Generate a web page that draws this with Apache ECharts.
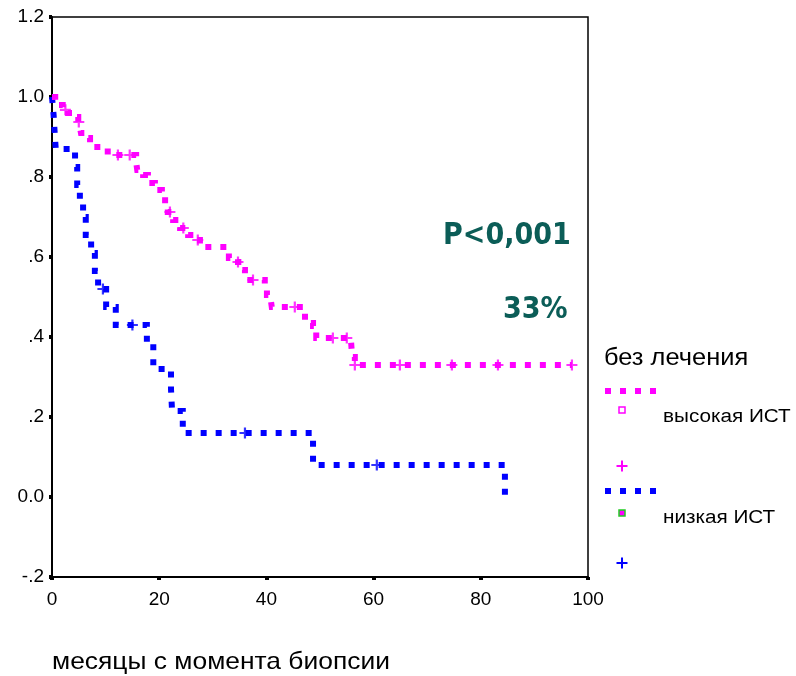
<!DOCTYPE html>
<html>
<head>
<meta charset="utf-8">
<script src="https://cdn.jsdelivr.net/npm/echarts@6/dist/echarts.min.js"></script>
<style>
  html, body { margin: 0; padding: 0; background: #fff; }
  #chart { width: 796px; height: 676px; }
</style>
</head>
<body>
<div id="chart"></div>
<script>
// Kaplan–Meier survival, untreated patients, split by IST level.
// Event times (months) and survival after each event.
const highTimes = [0, 0.6, 1.1, 2.0, 3.0, 3.9, 4.9, 5.2, 5.4, 6.2, 7.1, 7.6, 10.4, 15.7, 15.9, 17.0, 17.9, 19.2, 20.5, 21.1, 21.6, 22.6, 23.9, 25.4, 27.1, 27.6, 33.0, 34.7, 35.4, 36.0, 39.7, 40.1, 40.7, 41.0, 47.2, 48.7, 49.3, 55.8, 56.0, 56.5, 97.0];
const highSurv  = [1.0, 0.988, 0.98, 0.968, 0.96, 0.95, 0.9375, 0.925, 0.91, 0.8975, 0.885, 0.875, 0.855, 0.8375, 0.8175, 0.805, 0.785, 0.7675, 0.75, 0.73, 0.7125, 0.6925, 0.6725, 0.655, 0.6425, 0.625, 0.5975, 0.5875, 0.5675, 0.5425, 0.5325, 0.505, 0.5, 0.475, 0.435, 0.4275, 0.3975, 0.3875, 0.35, 0.33, 0.33];
// Censored observations (plus marks)
const highCensT = [2.5, 5.0, 12.3, 14.5, 22.0, 24.5, 27.2, 34.7, 37.5, 45.3, 52.4, 55.0, 56.5, 64.9, 74.6, 83.2, 97.0];
const highCensS = [0.968, 0.9375, 0.855, 0.855, 0.7125, 0.6725, 0.6425, 0.5875, 0.5425, 0.475, 0.3975, 0.3975, 0.33, 0.33, 0.33, 0.33, 0.33];

const lowTimes = [0, 0.3, 0.5, 0.7, 4.3, 4.7, 5.2, 5.8, 6.3, 7.3, 8.0, 8.6, 10.1, 11.9, 17.7, 18.9, 22.2, 22.4, 24.4, 48.7, 84.5];
const lowSurv  = [1.0, 0.955, 0.91, 0.87, 0.825, 0.78, 0.74, 0.70, 0.655, 0.61, 0.565, 0.52, 0.475, 0.43, 0.385, 0.32, 0.27, 0.215, 0.16, 0.08, 0.0];
const lowCensT = [9.5, 15.0, 36.0, 60.6];
const lowCensS = [0.52, 0.43, 0.16, 0.08];

const yTickValues = [-0.2, 0, 0.2, 0.4, 0.6, 0.8, 1.0, 1.2];
const yTickLabels = ['-.2', '0.0', '.2', '.4', '.6', '.8', '1.0', '1.2'];

const MAGENTA = '#ff00ff';
const BLUE = '#0000ff';
const TEAL = '#0b5d57';
const FONT = '"Liberation Sans", Arial, sans-serif';
const PLUS = 'path://M4,0h2v4h4v2h-4v4h-2v-4h-4v-2h4z';

const zip = (a, b) => a.map((v, i) => [v, b[i]]);

const chart = echarts.init(document.getElementById('chart'), null, { renderer: 'canvas' });

const dotted = (color) => ({ color: color, width: 6, type: [6, 9], cap: 'butt', join: 'miter' });

// Left-anchored, vertically centred text, optionally widened
const label = (text, x, y, font, fill, sx) => ({
  type: 'text', x: x, y: y, scaleX: sx || 1,
  style: { text: text, fill: fill || '#000', font: font, align: 'left', verticalAlign: 'middle' }
});

// Small plus-shaped legend key centred at (cx, cy)
const plusKey = (cx, cy, color) => {
  const a = 5.5, t = 1;
  return {
    type: 'polygon',
    shape: { points: [
      [cx - t, cy - a], [cx + t, cy - a], [cx + t, cy - t], [cx + a, cy - t],
      [cx + a, cy + t], [cx + t, cy + t], [cx + t, cy + a], [cx - t, cy + a],
      [cx - t, cy + t], [cx - a, cy + t], [cx - a, cy - t], [cx - t, cy - t]
    ] },
    style: { fill: color }
  };
};

chart.setOption({
  animation: false,
  backgroundColor: '#fff',
  grid: {
    left: 52, right: 208, top: 17, bottom: 99,
    show: true, borderColor: '#000', borderWidth: 1.5, backgroundColor: 'transparent'
  },
  xAxis: {
    type: 'value', min: 0, max: 100, interval: 20,
    axisLine: { show: true, onZero: false, lineStyle: { color: '#000', width: 2 } },
    axisTick: { show: true, length: 3, lineStyle: { color: '#000', width: 4 } },
    axisLabel: { color: '#000', fontFamily: FONT, fontSize: 19, margin: 13 },
    splitLine: { show: false }
  },
  yAxis: {
    type: 'value', min: -0.2, max: 1.2, interval: 0.2,
    axisLine: { show: true, onZero: false, lineStyle: { color: '#000', width: 2 } },
    axisTick: { show: true, length: 3, lineStyle: { color: '#000', width: 4 } },
    axisLabel: {
      color: '#000', fontFamily: FONT, fontSize: 19, margin: 8,
      formatter: (v) => {
        const i = yTickValues.findIndex(t => Math.abs(t - v) < 1e-6);
        return i >= 0 ? yTickLabels[i] : '';
      }
    },
    splitLine: { show: false }
  },
  series: [
    {
      name: 'высокая ИСТ', type: 'line', step: 'end', showSymbol: false,
      data: zip(highTimes, highSurv), lineStyle: dotted(MAGENTA), z: 3
    },
    {
      name: 'низкая ИСТ', type: 'line', step: 'end', showSymbol: false,
      data: zip(lowTimes, lowSurv), lineStyle: dotted(BLUE), z: 2
    },
    {
      name: 'высокая ИСТ цензур.', type: 'scatter', symbol: PLUS, symbolSize: 11,
      data: zip(highCensT, highCensS), itemStyle: { color: MAGENTA }, z: 4
    },
    {
      name: 'низкая ИСТ цензур.', type: 'scatter', symbol: PLUS, symbolSize: 11,
      data: zip(lowCensT, lowCensS), itemStyle: { color: BLUE }, z: 4
    }
  ],
  graphic: [
    // annotations
    label('P<0,001', 443, 236, 'bold 30px "DejaVu Sans", sans-serif', TEAL, 0.9),
    label('33%', 503, 310, 'bold 30px "DejaVu Sans", sans-serif', TEAL, 0.9),
    // axis title
    label('месяцы с момента биопсии', 52, 662, '24px ' + FONT, '#000', 1.1),
    // legend
    label('без лечения', 604, 358, '24px ' + FONT, '#000', 1.06),
    { type: 'line', shape: { x1: 605, y1: 391, x2: 657, y2: 391 }, style: { stroke: MAGENTA, lineWidth: 6, lineDash: [6, 9] } },
    { type: 'rect', shape: { x: 619, y: 407, width: 6, height: 6 }, style: { fill: '#fff', stroke: MAGENTA, lineWidth: 1.5 } },
    label('высокая ИСТ', 663, 417, '18px ' + FONT, '#000', 1.15),
    plusKey(622, 466, MAGENTA),
    { type: 'line', shape: { x1: 605, y1: 491, x2: 657, y2: 491 }, style: { stroke: BLUE, lineWidth: 6, lineDash: [6, 9] } },
    { type: 'rect', shape: { x: 619, y: 510, width: 6, height: 6 }, style: { fill: MAGENTA, stroke: '#22cc22', lineWidth: 1.5 } },
    label('низкая ИСТ', 663, 518, '18px ' + FONT, '#000', 1.15),
    plusKey(622, 563, BLUE)
  ]
});
</script>
</body>
</html>
